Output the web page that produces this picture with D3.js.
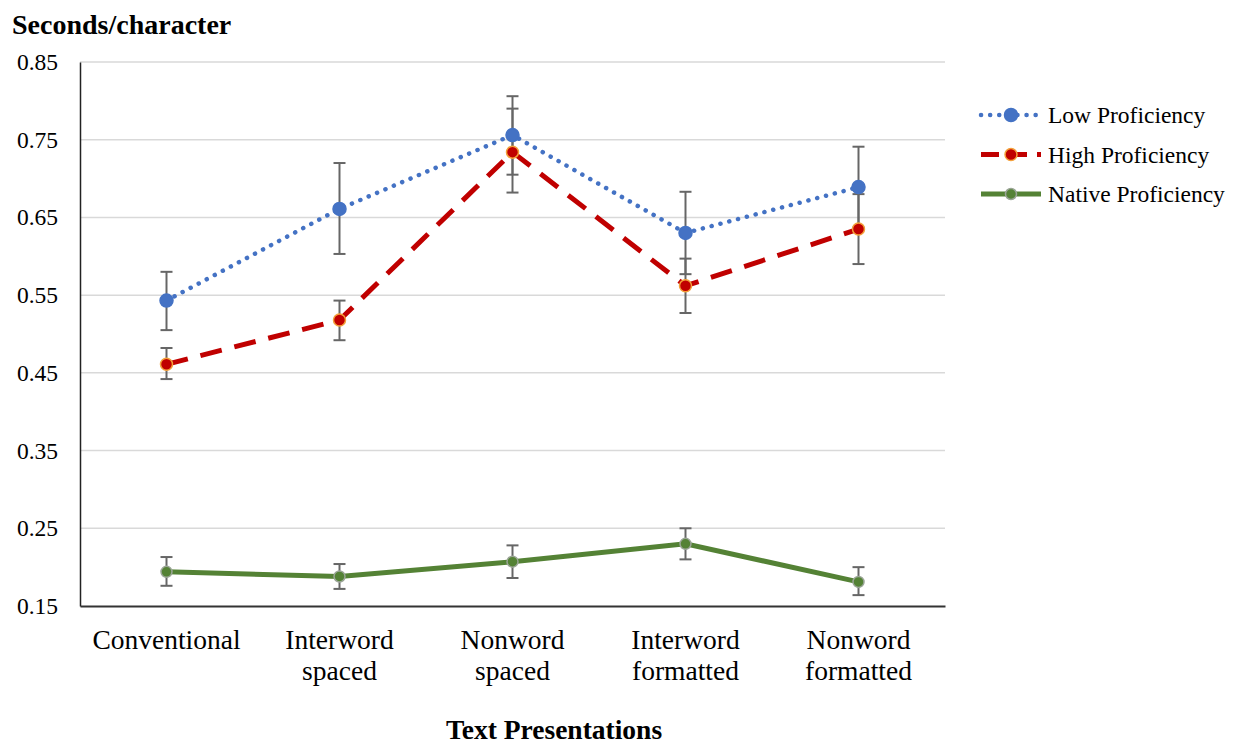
<!DOCTYPE html>
<html><head><meta charset="utf-8">
<script src="https://cdn.jsdelivr.net/npm/d3@7"></script>
<style>body{margin:0;background:#fff;}svg{display:block;font-family:"Liberation Serif","DejaVu Serif",serif;}</style>
</head><body>
<svg id="c" width="1233" height="745"></svg>
<script>
const categories = ["Conventional","Interword spaced","Nonword spaced","Interword formatted","Nonword formatted"];
const categoryLines = [["Conventional"],["Interword","spaced"],["Nonword","spaced"],["Interword","formatted"],["Nonword","formatted"]];
const yTicks = [0.15,0.25,0.35,0.45,0.55,0.65,0.75,0.85];
const seriesNames = ["Low Proficiency","High Proficiency","Native Proficiency"];
const lowValues  = [0.543,0.661,0.756,0.630,0.689];
const lowUpper   = [0.580,0.720,0.806,0.683,0.741];
const lowLower   = [0.505,0.603,0.705,0.577,0.637];
const highValues = [0.461,0.518,0.734,0.562,0.635];
const highUpper  = [0.482,0.543,0.790,0.597,0.680];
const highLower  = [0.442,0.492,0.682,0.527,0.590];
const nativeValues = [0.194,0.188,0.207,0.230,0.181];
const nativeUpper  = [0.213,0.204,0.228,0.250,0.200];
const nativeLower  = [0.176,0.172,0.186,0.210,0.164];

const svg = d3.select("#c");
const L=80, R=945, T=62, B=606;
const x = d3.scaleBand().domain(categories).range([L,R]);
const y = d3.scaleLinear().domain([0.15,0.85]).range([B,T]);
const cx = c => x(c)+x.bandwidth()/2;

// gridlines
svg.append("g").selectAll("line").data(yTicks.filter(t=>t>0.15)).join("line")
  .attr("x1",L).attr("x2",R).attr("y1",d=>y(d)).attr("y2",d=>y(d))
  .attr("stroke","#d9d9d9").attr("stroke-width",1.5);

// y axis
const ya = svg.append("g").attr("transform",`translate(${L},0)`)
  .call(d3.axisLeft(y).tickValues(yTicks).tickFormat(d3.format(".2f")).tickSize(0).tickPadding(22));
ya.select(".domain").attr("stroke","#222").attr("stroke-width",1.5);
ya.selectAll("text").attr("font-family","Liberation Serif").attr("font-size",23.5).attr("fill","#000");

// x axis
const xa = svg.append("g").attr("transform",`translate(0,${B})`)
  .call(d3.axisBottom(x).tickSize(0).tickFormat(""));
xa.select(".domain").attr("stroke","#333").attr("stroke-width",2);
xa.selectAll(".tick").each(function(d,i){
  const t = d3.select(this).append("text").attr("fill","#000")
    .attr("font-family","Liberation Serif").attr("font-size",27.5).attr("text-anchor","middle");
  categoryLines[i].forEach((s,j)=>t.append("tspan").attr("x",0).attr("y",43+j*31).text(s));
});

// titles
svg.append("text").attr("x",12).attr("y",34).attr("font-size",28).attr("font-weight","bold").text("Seconds/character");
svg.append("text").attr("x",554).attr("y",739).attr("text-anchor","middle").attr("font-size",27.5).attr("font-weight","bold").text("Text Presentations");

const series = [
  {name:seriesNames[0], v:lowValues, up:lowUpper, lo:lowLower, color:"#4472C4", dash:"0.1 9", w:4.5, cap:"round", mfill:"#4472C4", mstroke:"#4472C4", r:6.5},
  {name:seriesNames[1], v:highValues, up:highUpper, lo:highLower, color:"#C00000", dash:"22 13", w:5, cap:"butt", mfill:"#C00000", mstroke:"#F4A03A", r:6},
  {name:seriesNames[2], v:nativeValues, up:nativeUpper, lo:nativeLower, color:"#548235", dash:null, w:5, cap:"butt", mfill:"#548235", mstroke:"#9aa596", r:5.5}
];

const line = d3.line().x((d,i)=>cx(categories[i])).y(d=>y(d));

// error bars
series.forEach(s=>{
  const g = svg.append("g").attr("stroke","#666").attr("stroke-width",2);
  categories.forEach((c,i)=>{
    const xx = cx(c);
    g.append("line").attr("x1",xx).attr("x2",xx).attr("y1",y(s.up[i])).attr("y2",y(s.lo[i]));
    g.append("line").attr("x1",xx-6).attr("x2",xx+6).attr("y1",y(s.up[i])).attr("y2",y(s.up[i]));
    g.append("line").attr("x1",xx-6).attr("x2",xx+6).attr("y1",y(s.lo[i])).attr("y2",y(s.lo[i]));
  });
});

series.forEach(s=>{
  svg.append("path").datum(s.v).attr("d",line).attr("fill","none")
    .attr("stroke",s.color).attr("stroke-width",s.w).attr("stroke-linecap",s.cap)
    .attr("stroke-dasharray",s.dash);
  svg.append("g").selectAll("circle").data(s.v).join("circle")
    .attr("cx",(d,i)=>cx(categories[i])).attr("cy",d=>y(d)).attr("r",s.r)
    .attr("fill",s.mfill).attr("stroke",s.mstroke).attr("stroke-width",1.5);
});

// legend
const lg = svg.append("g");
series.forEach((s,i)=>{
  const yy = 115 + i*39.5;
  lg.append("line").attr("x1",981).attr("x2",1041).attr("y1",yy).attr("y2",yy)
    .attr("stroke",s.color).attr("stroke-width",s.w).attr("stroke-linecap",s.cap)
    .attr("stroke-dasharray", i===0 ? "0.1 9" : (i===1 ? "18 10" : null));
  lg.append("circle").attr("cx",1011).attr("cy",yy).attr("r",s.r).attr("fill",s.mfill).attr("stroke",s.mstroke).attr("stroke-width",1.5);
  lg.append("text").attr("x",1048).attr("y",yy+8).attr("font-size",23.5).text(s.name);
});
</script>
</body></html>
